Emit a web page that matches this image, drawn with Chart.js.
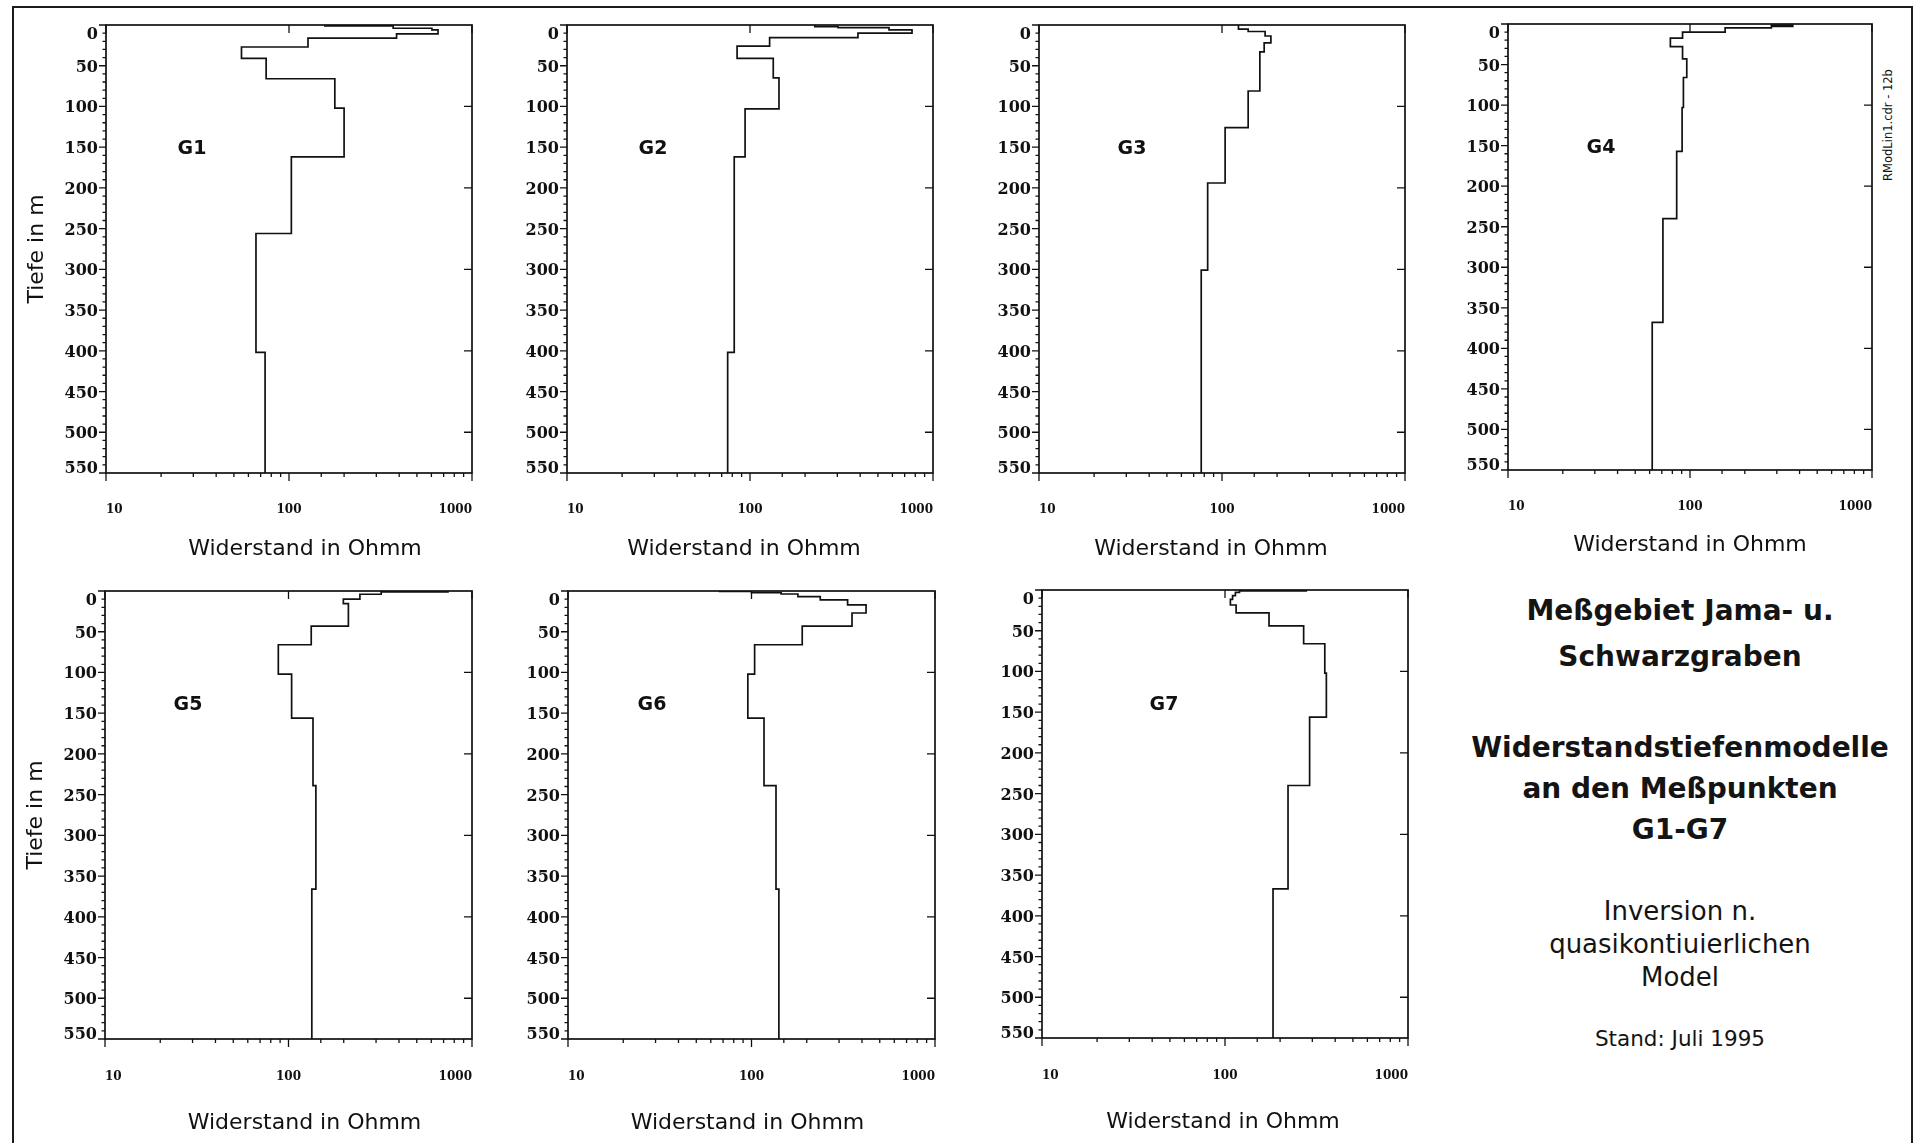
<!DOCTYPE html>
<html>
<head>
<meta charset="utf-8">
<script src="https://cdn.jsdelivr.net/npm/chart.js@4.4.1/dist/chart.umd.min.js"></script>
<style>
  html, body { margin: 0; padding: 0; background: #fff; }
  body { position: relative; width: 1919px; height: 1143px; overflow: hidden; font-family: "DejaVu Sans", sans-serif; color: #141414; }
  .frame { position: absolute; left: 12px; top: 6px; width: 1901px; height: 1200px; box-sizing: border-box; border: 2px solid #1c1c1c; }
  canvas.panel { position: absolute; }
  .txt { position: absolute; left: 1430px; width: 500px; text-align: center; white-space: nowrap; }
  .head { font-weight: bold; font-size: 28px; line-height: 36px; }
  .note { font-size: 26px; line-height: 30px; }
  .date { font-size: 21.5px; line-height: 26px; }
  .fileid { position: absolute; left: 1788px; top: 117px; width: 200px; height: 16px; line-height: 16px; font-size: 11.5px; text-align: center; transform: rotate(-90deg); white-space: nowrap; }
</style>
</head>
<body>
<div class="frame"></div>

<div class="txt head" style="top:593px">Meßgebiet Jama- u.</div>
<div class="txt head" style="top:639px">Schwarzgraben</div>
<div class="txt head" style="top:730px">Widerstandstiefenmodelle</div>
<div class="txt head" style="top:771px">an den Meßpunkten</div>
<div class="txt head" style="top:812px">G1-G7</div>
<div class="txt note" style="top:896px">Inversion n.</div>
<div class="txt note" style="top:929px">quasikontiuierlichen</div>
<div class="txt note" style="top:962px">Model</div>
<div class="txt date" style="top:1026px">Stand: Juli 1995</div>
<div class="fileid">RModLin1.cdr - 12b</div>

<script>
// axis labels
const depthTicks = [0, 50, 100, 150, 200, 250, 300, 350, 400, 450, 500, 550];
const resTicks = [10, 100, 1000];

// layer models: depth of each layer top (m) and its resistivity (Ohmm)
const depthG1 = [0, 1, 4, 6, 11, 16, 27, 41, 66, 102, 162, 256, 402];
const rhoG1   = [157, 371, 604, 652, 387, 127, 55, 75, 178, 200, 103, 66, 74];

const depthG2 = [0, 2, 3.3, 6, 10, 15.5, 26, 41, 65, 103, 162, 402];
const rhoG2   = [226, 303, 575, 768, 389, 128, 85, 134, 144, 94, 82, 75.5];

const depthG3 = [0, 5, 8, 13.5, 22, 33, 81, 126, 194, 301];
const rhoG3   = [123, 139, 172, 185, 170, 161, 139, 104, 83.5, 77];

const depthG4 = [0, 1.5, 3, 4.7, 10, 17.5, 28, 43, 66, 103, 157, 240, 368];
const rhoG4   = [280, 367, 280, 156, 91, 78, 91, 96, 92, 90.5, 84.5, 71, 62];

const depthG5 = [0, 1, 4, 10, 15.5, 43, 66, 102, 156, 239, 366];
const rhoG5   = [740, 320, 245, 199, 212, 133, 88, 104, 136, 141, 134];

const depthG6 = [0, 0.5, 2, 3.7, 7, 11, 17, 27, 43, 66, 102, 156, 239, 366];
const rhoG6   = [67, 100, 145, 179, 237, 334, 421, 353, 189, 104, 95.5, 117, 136, 141];

const depthG7 = [0, 1, 3, 7, 11.5, 18.4, 28, 44, 66, 102, 156, 240, 367];
const rhoG7   = [278, 120, 114, 110, 107, 115, 174, 269, 351, 358, 290, 221, 183];

const maxDepth = 550;
const ink = '#111';

// where each plot box sits on the page
const panels = [
  { name: 'G1', depth: depthG1, rho: rhoG1, left: 106,  top: 25,  w: 366, h: 448, yTitle: true,  tag: [86, 122],  titleDx: 16,  titleDy: 74, labDy: 36 },
  { name: 'G2', depth: depthG2, rho: rhoG2, left: 567,  top: 25,  w: 366, h: 448, yTitle: false, tag: [86, 122],  titleDx: -6,  titleDy: 74, labDy: 36 },
  { name: 'G3', depth: depthG3, rho: rhoG3, left: 1039, top: 25,  w: 366, h: 448, yTitle: false, tag: [93, 122],  titleDx: -11, titleDy: 74, labDy: 36 },
  { name: 'G4', depth: depthG4, rho: rhoG4, left: 1508, top: 24,  w: 364, h: 446, yTitle: false, tag: [93, 122],  titleDx: 0,   titleDy: 73, labDy: 36 },
  { name: 'G5', depth: depthG5, rho: rhoG5, left: 105,  top: 591, w: 367, h: 448, yTitle: true,  tag: [83, 112],  titleDx: 16,  titleDy: 82, labDy: 37 },
  { name: 'G6', depth: depthG6, rho: rhoG6, left: 568,  top: 591, w: 367, h: 448, yTitle: false, tag: [84, 112],  titleDx: -4,  titleDy: 82, labDy: 37 },
  { name: 'G7', depth: depthG7, rho: rhoG7, left: 1042, top: 590, w: 366, h: 448, yTitle: false, tag: [122, 113], titleDx: -2,  titleDy: 82, labDy: 37 }
];

const AXIS_W = 100, AXIS_H = 100, PAD_TOP = 12, PAD_RIGHT = 14;

// box, tick marks, tick labels, x title and station name
const axisFrame = {
  id: 'axisFrame',
  afterDatasetsDraw(chart, args, p) {
    const { ctx, chartArea: a, scales: { x, y } } = chart;
    const L = a.left, R = a.right, T = a.top, B = a.bottom;
    ctx.save();
    ctx.strokeStyle = ink;
    ctx.lineWidth = 1.7;
    ctx.strokeRect(L, T, R - L, B - T);

    ctx.lineWidth = 1.3;
    ctx.beginPath();
    // depth: minor every 10 m, major every 50 m, outside the left edge
    for (let d = 0; d <= maxDepth; d += 10) {
      const py = y.getPixelForValue(d);
      const len = d % 50 === 0 ? 7 : 3.5;
      ctx.moveTo(L - len, py);
      ctx.lineTo(L, py);
    }
    // right edge, every 100 m pointing in
    for (let d = 100; d < maxDepth; d += 100) {
      const py = y.getPixelForValue(d);
      ctx.moveTo(R - 8, py);
      ctx.lineTo(R, py);
    }
    // bottom: the log scale's own ticks, decades longer
    x.ticks.forEach(t => {
      const px = x.getPixelForValue(t.value);
      const major = Math.abs(Math.log10(t.value) - Math.round(Math.log10(t.value))) < 1e-6;
      ctx.moveTo(px, B);
      ctx.lineTo(px, B + (major ? 8 : 4));
    });
    // top: decades pointing down
    resTicks.forEach(v => {
      const px = x.getPixelForValue(v);
      ctx.moveTo(px, T);
      ctx.lineTo(px, T + 8);
    });
    ctx.stroke();

    ctx.fillStyle = ink;
    // depth labels, first and last pulled inside the box
    ctx.font = 'bold 16px "DejaVu Serif"';
    ctx.textAlign = 'right';
    ctx.textBaseline = 'alphabetic';
    depthTicks.forEach((d, i) => {
      const py = y.getPixelForValue(d);
      const off = i === 0 ? 14 : (i === depthTicks.length - 1 ? 0 : 6);
      ctx.fillText(String(d), L - 8, py + off);
    });

    // resistivity labels
    ctx.font = 'bold 12px "DejaVu Serif"';
    resTicks.forEach((v, i) => {
      const px = x.getPixelForValue(v);
      ctx.textAlign = i === 0 ? 'left' : (i === resTicks.length - 1 ? 'right' : 'center');
      ctx.fillText(String(v), px, B + p.labDy + 4.4);
    });

    // x title
    ctx.font = '22px "DejaVu Sans"';
    ctx.textAlign = 'center';
    ctx.fillText('Widerstand in Ohmm', (L + R) / 2 + p.titleDx, B + p.titleDy + 8);

    // station name
    ctx.font = 'bold 19px "DejaVu Sans"';
    ctx.fillText(p.name, L + p.tag[0], T + p.tag[1] + 7);
    ctx.restore();
  }
};

panels.forEach(p => {
  const canvas = document.createElement('canvas');
  canvas.className = 'panel';
  canvas.width = p.w + AXIS_W + PAD_RIGHT;
  canvas.height = p.h + AXIS_H + PAD_TOP;
  canvas.style.left = (p.left - AXIS_W) + 'px';
  canvas.style.top = (p.top - PAD_TOP) + 'px';
  document.body.appendChild(canvas);

  // layer tops plus the bottom of the last layer
  const points = p.depth.map((d, i) => ({ x: p.rho[i], y: d }));
  points.push({ x: p.rho[p.rho.length - 1], y: maxDepth });

  new Chart(canvas, {
    type: 'line',
    data: {
      datasets: [{
        data: points,
        borderColor: ink,
        borderWidth: 1.7,
        pointRadius: 0,
        stepped: 'after',
        fill: false
      }]
    },
    options: {
      responsive: false,
      animation: false,
      events: [],
      layout: { padding: { top: PAD_TOP, right: PAD_RIGHT, left: 0, bottom: 0 } },
      plugins: {
        legend: { display: false },
        tooltip: { enabled: false },
        axisFrame: p
      },
      scales: {
        x: {
          type: 'logarithmic',
          min: 10,
          max: 1000,
          grid: { display: false },
          border: { display: false },
          ticks: { display: false },
          afterFit: s => { s.height = AXIS_H; }
        },
        y: {
          type: 'linear',
          reverse: true,
          min: 0,
          max: maxDepth,
          grid: { display: false },
          border: { display: false },
          ticks: { display: false },
          title: {
            display: p.yTitle,
            text: 'Tiefe in m',
            color: ink,
            font: { family: 'DejaVu Sans', size: 22 },
            padding: { top: 18.5, bottom: 0 }
          },
          afterFit: s => { s.width = AXIS_W; }
        }
      }
    },
    plugins: [axisFrame]
  });
});
</script>
</body>
</html>
